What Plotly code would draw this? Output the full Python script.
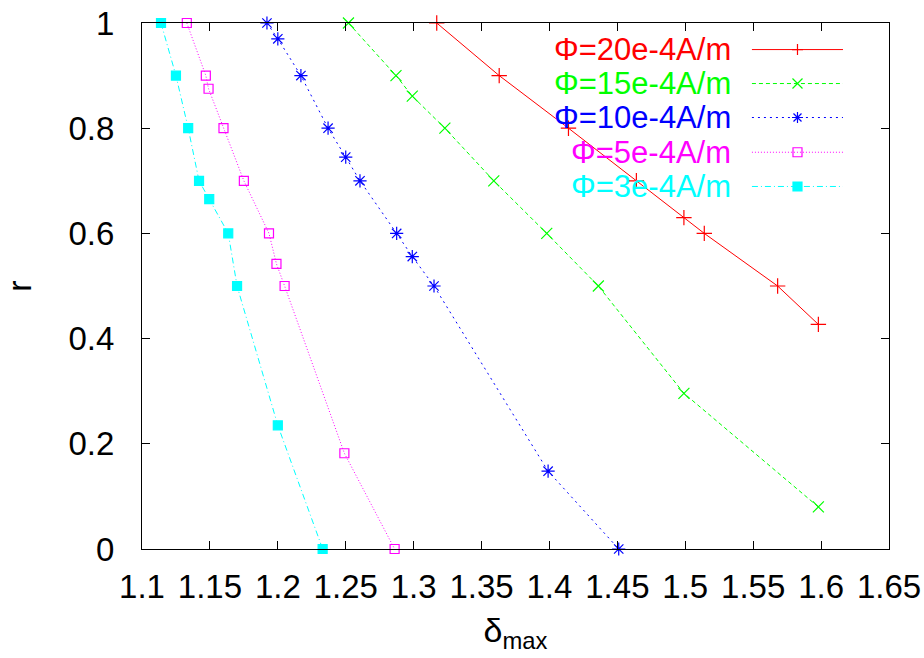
import plotly.graph_objects as go

# ---- data ----
red_x = [1.317, 1.363, 1.414, 1.464, 1.499, 1.514, 1.568, 1.598]
red_y = [1.0, 0.9, 0.8, 0.7, 0.63, 0.6, 0.5, 0.427]

green_x = [1.252, 1.287, 1.299, 1.323, 1.359, 1.398, 1.436, 1.499, 1.598]
green_y = [1.0, 0.9, 0.861, 0.8, 0.7, 0.6, 0.5, 0.296, 0.08]

blue_x = [1.192, 1.200, 1.217, 1.237, 1.250, 1.2605, 1.2875, 1.299, 1.315, 1.399, 1.451]
blue_y = [1.0, 0.97, 0.9, 0.8, 0.745, 0.7, 0.6, 0.556, 0.5, 0.148, 0.0]

mag_x = [1.133, 1.147, 1.149, 1.160, 1.175, 1.1935, 1.199, 1.205, 1.249, 1.286]
mag_y = [1.0, 0.9, 0.875, 0.8, 0.7, 0.6, 0.542, 0.5, 0.182, 0.0]

cyan_x = [1.114, 1.125, 1.134, 1.142, 1.1495, 1.1635, 1.170, 1.200, 1.233]
cyan_y = [1.0, 0.9, 0.8, 0.7, 0.665, 0.6, 0.5, 0.235, 0.0]

labels = ["Φ=20e-4A/m", "Φ=15e-4A/m", "Φ=10e-4A/m", "Φ=5e-4A/m", "Φ=3e-4A/m"]
x_ticks = [1.1, 1.15, 1.2, 1.25, 1.3, 1.35, 1.4, 1.45, 1.5, 1.55, 1.6, 1.65]
x_ticklabels = ["1.1", "1.15", "1.2", "1.25", "1.3", "1.35", "1.4", "1.45", "1.5", "1.55", "1.6", "1.65"]
y_ticks = [0, 0.2, 0.4, 0.6, 0.8, 1]
y_ticklabels = ["0", "0.2", "0.4", "0.6", "0.8", "1"]

# ---- styles ----
series = [
    (red_x, red_y, "#ff0000", "solid", "cross-thin-open", 11),
    (green_x, green_y, "#00ff00", "4px,3px", "x-thin-open", 11),
    (blue_x, blue_y, "#0000ff", "2px,4px", "asterisk-open", 11),
    (mag_x, mag_y, "#ff00ff", "1px,2px", "square-open", 9),
    (cyan_x, cyan_y, "#00ffff", "6px,3px,1px,3px", "square", 9),
]
key_paths = [
    ("M-5.5,0H5.5M0,-5.5V5.5", False),
    ("M-5,-5L5,5M-5,5L5,-5", False),
    ("M-5.5,0H5.5M0,-5.5V5.5M-4,-4L4,4M-4,4L4,-4", False),
    ("M-4.5,-4.5H4.5V4.5H-4.5Z", False),
    ("M-4.5,-4.5H4.5V4.5H-4.5Z", True),
]

fig = go.Figure()
for (xs, ys, col, dash, sym, sz) in series:
    fig.add_trace(go.Scatter(
        x=xs, y=ys, mode="lines+markers",
        line=dict(color=col, width=1, dash=dash),
        marker=dict(symbol=sym, size=sz, color=col, line=dict(color=col, width=1.2)),
        showlegend=False, cliponaxis=False,
    ))

# ---- legend (gnuplot style: right-aligned text, key sample on the right) ----
key_x0, key_x1, key_xm = 0.8165, 0.9384, 0.8775
key_rows = [0.9495, 0.8849, 0.8203, 0.7543, 0.6892]
for i, (xs, ys, col, dash, sym, sz) in enumerate(series):
    yk = key_rows[i]
    fig.add_shape(type="line", xref="paper", yref="paper",
                  x0=key_x0, x1=key_x1, y0=yk, y1=yk,
                  line=dict(color=col, width=1, dash=dash))
    path, filled = key_paths[i]
    fig.add_shape(type="path", xref="paper", yref="paper",
                  xsizemode="pixel", ysizemode="pixel",
                  xanchor=key_xm, yanchor=yk, path=path,
                  line=dict(color=col, width=1.2),
                  fillcolor=col if filled else "rgba(0,0,0,0)")
    fig.add_annotation(
        x=0.7894, y=yk, xref="paper", yref="paper", text=labels[i],
        showarrow=False, xanchor="right", yanchor="middle",
        font=dict(family="Liberation Sans, Arial, sans-serif", size=31, color=col),
        borderpad=0,
    )

tickfont = dict(family="Liberation Sans, Arial, sans-serif", size=33, color="black")
titlefont = dict(family="Liberation Sans, Arial, sans-serif", size=34, color="black")

fig.update_layout(
    width=924, height=658,
    margin=dict(l=142, r=35, t=23, b=109),
    paper_bgcolor="white", plot_bgcolor="white",
    xaxis=dict(
        range=[1.1, 1.65], tickvals=x_ticks, ticktext=x_ticklabels,
        ticks="inside", ticklen=8, tickwidth=1, tickcolor="black",
        showline=True, linecolor="black", linewidth=1, mirror="ticks",
        showgrid=False, zeroline=False, tickfont=tickfont, ticklabelstandoff=8,
        title=dict(text="δ<sub>max</sub>", font=titlefont, standoff=14),
        automargin=False,
    ),
    yaxis=dict(
        range=[0, 1], tickvals=y_ticks, ticktext=y_ticklabels,
        ticks="inside", ticklen=8, tickwidth=1, tickcolor="black",
        showline=True, linecolor="black", linewidth=1, mirror="ticks",
        showgrid=False, zeroline=False, tickfont=tickfont, ticklabelstandoff=20,
        title=dict(text="r", font=titlefont, standoff=30),
        automargin=False,
    ),
    showlegend=False,
)

fig.write_html("out.html")
